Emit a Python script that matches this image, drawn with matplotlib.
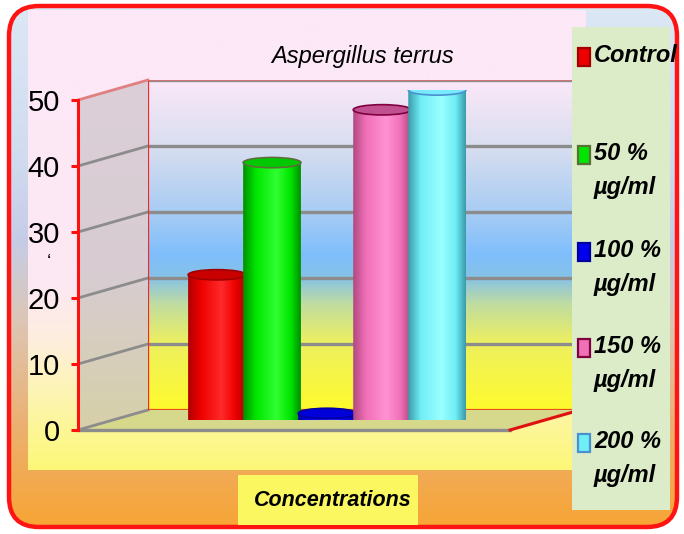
import numpy as np
import matplotlib
matplotlib.use('Agg')
import matplotlib.pyplot as plt
from matplotlib.patches import Rectangle, Ellipse, Polygon, FancyBboxPatch
from matplotlib.colors import LinearSegmentedColormap

# data
categories = ['Control', '50 %\nµg/ml', '100 %\nµg/ml', '150 %\nµg/ml', '200 %\nµg/ml']
values = [22, 39, 1, 47, 50]
yticks = [0, 10, 20, 30, 40, 50]
title = 'Aspergillus terrus'
xlabel = 'Concentrations'

# cylinder shading: dark edge, body, highlight, top cap, outline
shades = [
    ('#b00000', '#ee0000', '#ff2a2a', '#c80000', '#a00000'),
    ('#009000', '#00e600', '#30ff30', '#00c800', '#5a7038'),
    ('#0000a8', '#0000ee', '#2a2aff', '#0000d8', '#0000a0'),
    ('#b04880', '#f070b8', '#ff92d2', '#c05090', '#800040'),
    ('#3a9ca8', '#70eef6', '#9affff', '#78eaff', '#4a90d0'),
]

plt.rcParams['font.family'] = ['Liberation Sans', 'DejaVu Sans']

W, H = 684, 534
fig = plt.figure(figsize=(W / 100, H / 100), dpi=100)


def px_rect(left, bottom, width, height):
    # pixel box (y measured from the top) -> figure fraction
    return [left / W, (H - bottom) / H, width / W, height / H]


def vgrad(stops):
    return LinearSegmentedColormap.from_list('g', stops)


# ---- background layer (pixel coordinates, y down)
bg = fig.add_axes([0, 0, 1, 1], zorder=0)
bg.set_xlim(0, W)
bg.set_ylim(H, 0)
bg.axis('off')

col = np.linspace(0, 1, 256).reshape(-1, 1)
outer = FancyBboxPatch((9, 6), 668, 521, boxstyle='round,pad=0,rounding_size=30',
                       facecolor='none', edgecolor='#ff1414', linewidth=3.2, zorder=3)
im = bg.imshow(col, cmap=vgrad([(0, '#dde8f5'), (0.3, '#d0dbef'), (0.45, '#c6cce6'),
                                (0.6, '#dcc6b6'), (0.8, '#ecb070'), (1, '#f8a430')]),
               extent=(0, W, H, 0), aspect='auto', zorder=1)
bg.add_patch(outer)
im.set_clip_path(outer)

plot_area = Rectangle((28, 10), 558, 460, facecolor='none', edgecolor='none')
bg.add_patch(plot_area)
im = bg.imshow(col, cmap=vgrad([(0, '#fce8f8'), (0.6, '#fce8f3'), (0.72, '#fdeedd'),
                                (0.82, '#fdf4b8'), (1, '#fcf878')]),
               extent=(28, 586, 470, 10), aspect='auto', zorder=2)
im.set_clip_path(plot_area)

# ---- chart planes: front (axis), middle (bars), back (wall)
DX, DY = 35, 10
PW, PH = 432, 330
ax = fig.add_axes(px_rect(113, 420, PW, PH), zorder=3)
fa = fig.add_axes(px_rect(113 - DX, 420 + DY, PW, PH), zorder=2)
wa = fig.add_axes(px_rect(113 + DX, 420 - DY, PW, PH), zorder=1)

xlim = (-1.89, 5.96)
ylim = (yticks[0], yticks[-1])
for a in (ax, fa, wa):
    a.set_xlim(*xlim)
    a.set_ylim(*ylim)
    a.set_autoscale_on(False)
    a.patch.set_visible(False)
    for s in a.spines.values():
        s.set_visible(False)
    a.set_xticks([])
ax.set_yticks([])
wa.set_yticks([])

# back wall
wa.imshow(col[::-1], cmap=vgrad([(0, '#fefa2e'), (0.2, '#eef05e'), (0.32, '#c0dca0'),
                                 (0.4, '#86c2e6'), (0.47, '#7ebefc'), (0.6, '#a8ccf4'),
                                 (0.8, '#d8def0'), (1, '#fbe8f8')]),
          extent=(xlim[0], xlim[1], ylim[0], ylim[1]), aspect='auto', zorder=0)
for t in yticks[1:]:
    wa.axhline(t, color='#8c8c8c', lw=2.4, zorder=1)
wa.axhline(0, color='#e85020', lw=1.6, zorder=1)
wa.axvline(xlim[0], color='#ff2020', lw=1.6, zorder=2)


def to_bg(a, pts):
    disp = a.transData.transform(pts)
    return bg.transData.inverted().transform(disp)


# side wall and floor
side = to_bg(fa, [(xlim[0], 0), (xlim[0], ylim[1])]).tolist() + \
    to_bg(wa, [(xlim[0], ylim[1]), (xlim[0], 0)]).tolist()
side_poly = Polygon(side, closed=True, facecolor='none', edgecolor='none')
bg.add_patch(side_poly)
ys = [p[1] for p in side]
xs = [p[0] for p in side]
im = bg.imshow(col, cmap=vgrad([(0, '#dccfd8'), (0.55, '#d8ccd2'), (1, '#d6d0a8')]),
               extent=(min(xs), max(xs), max(ys), min(ys)), aspect='auto', zorder=4)
im.set_clip_path(side_poly)

floor = to_bg(fa, [(xlim[0], 0), (xlim[1], 0)]).tolist() + \
    to_bg(wa, [(xlim[1], 0), (xlim[0], 0)]).tolist()
bg.add_patch(Polygon(floor, closed=True, facecolor='#d6d88c', edgecolor='none', zorder=4))
bg.plot([floor[0][0], floor[1][0]], [floor[0][1], floor[1][1]], color='#8c8c8c', lw=2.4, zorder=5)
bg.plot([floor[1][0], floor[2][0]], [floor[1][1], floor[2][1]], color='#e01010', lw=2.2, zorder=5)

# side wall gridlines
for t in yticks:
    p = to_bg(fa, [(xlim[0], t)])[0]
    q = to_bg(wa, [(xlim[0], t)])[0]
    c = '#e08080' if t == yticks[-1] else '#8c8c8c'
    bg.plot([p[0], q[0]], [p[1], q[1]], color=c, lw=2.0, zorder=5)
# thin rim above the back wall
wa.axhline(ylim[1], color='#e07070', lw=1.2, zorder=2)

# front value axis
fa.spines['left'].set_visible(True)
fa.spines['left'].set_color('#ff1010')
fa.spines['left'].set_linewidth(2.2)
fa.set_yticks(yticks)
fa.tick_params(axis='y', colors='#ff1010', length=5, width=2.2, pad=8,
               labelcolor='black', labelsize=21)

# ---- cylinders
x = np.arange(len(values))
bw = 1.05
cap = 0.78  # half height of the elliptical ends, data units
theta = np.linspace(np.pi, 2 * np.pi, 60)
row = np.linspace(0, 1, 128).reshape(1, -1)
for i, (xc, v) in enumerate(zip(x, values)):
    dark, body, light, top, edge = shades[i]
    cmap = LinearSegmentedColormap.from_list(
        'c%d' % i, [(0, dark), (0.22, body), (0.58, light), (0.82, body), (1, dark)])
    x0, x1 = xc - bw / 2, xc + bw / 2
    outline = [(x0, v)] + [(xc + bw / 2 * np.cos(t), cap * np.sin(t)) for t in theta] + [(x1, v)]
    clip = Polygon(outline, closed=True, transform=ax.transData)
    body_im = ax.imshow(row, cmap=cmap, extent=(x0, x1, -cap, v), aspect='auto',
                        zorder=2 + i, interpolation='bilinear')
    body_im.set_clip_path(clip)
    ax.add_patch(Ellipse((xc, v), bw, 2 * cap, facecolor=top, edgecolor=edge,
                         lw=1.2, zorder=2.5 + i))
ax.set_xlim(*xlim)
ax.set_ylim(*ylim)

# ---- overlay: titles and legend (pixel coordinates)
ov = fig.add_axes([0, 0, 1, 1], zorder=5)
ov.set_xlim(0, W)
ov.set_ylim(H, 0)
ov.axis('off')

ov.text(363, 56, title, fontsize=17, fontstyle='italic', ha='center', va='center')
ov.add_patch(Rectangle((238, 475), 180, 50, facecolor='#fbf760', edgecolor='none'))
ov.text(333, 500, xlabel, fontsize=15.5, fontstyle='italic', fontweight='bold',
        ha='center', va='center')
ov.text(49, 262, '‘', fontsize=14, ha='center', va='center')

ov.add_patch(Rectangle((572, 27), 98, 483, facecolor='#dcecc8', edgecolor='none'))
leg_y = [57, 155, 252, 348, 443]
for i, (lab, yy) in enumerate(zip(categories, leg_y)):
    dark, body, light, top, edge = shades[i]
    ov.add_patch(Rectangle((578, yy - 9), 12, 18, facecolor=body, edgecolor=edge, lw=1.6))
    ov.text(594, yy - 13, lab, fontsize=17, fontstyle='italic', fontweight='bold',
            ha='left', va='top', linespacing=1.6)

fig.savefig('out.png', dpi=100)
